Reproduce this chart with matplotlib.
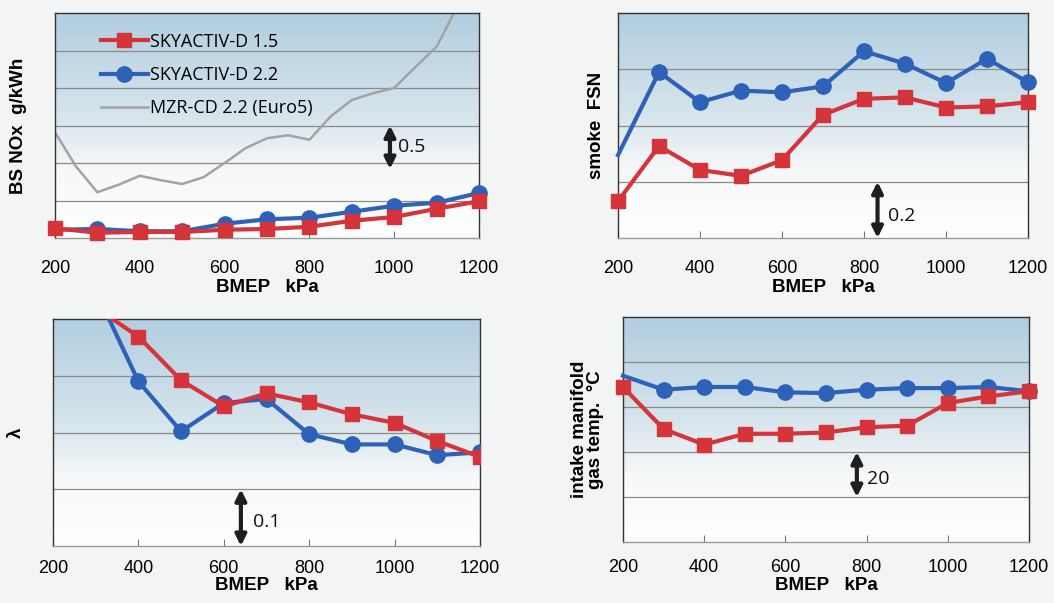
import numpy as np
import matplotlib
matplotlib.use("Agg")
import matplotlib.pyplot as plt
from matplotlib.colors import LinearSegmentedColormap

plt.rcParams['font.family'] = ['Liberation Sans', 'DejaVu Sans']

# ---------------- data ----------------
bmep = [200, 300, 400, 500, 600, 700, 800, 900, 1000, 1100, 1200]

nox_d15 = [0.13, 0.07, 0.08, 0.08, 0.11, 0.12, 0.15, 0.23, 0.28, 0.39, 0.49]
nox_d22 = [0.11, 0.12, 0.09, 0.09, 0.19, 0.25, 0.27, 0.35, 0.43, 0.47, 0.60]
mzr_bmep = [200, 250, 300, 350, 400, 450, 500, 550, 600, 650, 700, 750, 800,
            850, 900, 950, 1000, 1050, 1100, 1150, 1200]
mzr_nox = [1.41, 0.95, 0.61, 0.71, 0.83, 0.77, 0.72, 0.81, 1.00, 1.20, 1.33, 1.37, 1.31,
           1.62, 1.84, 1.93, 2.00, 2.28, 2.55, 3.10, 3.60]

smoke_d15 = [0.131, 0.327, 0.242, 0.221, 0.277, 0.438, 0.495, 0.500, 0.464, 0.468, 0.483]
smoke_d22 = [0.295, 0.590, 0.483, 0.524, 0.518, 0.539, 0.664, 0.620, 0.551, 0.637, 0.554]

lambda_d15 = [0.50, 0.42, 0.369, 0.292, 0.246, 0.269, 0.253, 0.232, 0.217, 0.185, 0.157]
lambda_d22 = [0.60, 0.45, 0.290, 0.202, 0.252, 0.259, 0.197, 0.179, 0.179, 0.160, 0.165]

temp_d15 = [68.9, 50.2, 43.3, 48.1, 48.1, 48.7, 51.0, 51.7, 61.8, 64.7, 67.0]
temp_d22 = [73.9, 67.7, 68.9, 68.9, 66.5, 66.2, 67.7, 68.4, 68.4, 68.9, 67.0]

labels = ['SKYACTIV-D 1.5', 'SKYACTIV-D 2.2', 'MZR-CD 2.2 (Euro5)']
xticks = [200, 400, 600, 800, 1000, 1200]

RED = '#d4343a'
BLUE = '#2d62b8'
GRAY = '#a3a3a3'

fig = plt.figure(figsize=(10.54, 6.03), dpi=100, facecolor='#f3f4f4')

W, H = 1054, 603
def add_ax(x0, x1, y0, y1):
    return fig.add_axes([x0 / W, 1 - y1 / H, (x1 - x0) / W, (y1 - y0) / H])

cmap = LinearSegmentedColormap.from_list(
    'bg', [(0.0, '#ffffff'), (0.30, '#f6f8f9'), (0.55, '#d6e4ec'), (1.0, '#b2cee0')])

def style(ax, ylim, step, ylabel, ylabel_x, tpad, lpad):
    ax.set_xlim(200, 1200)
    ax.set_ylim(*ylim)
    grad = np.linspace(0, 1, 256).reshape(-1, 1)
    ax.imshow(grad, cmap=cmap, aspect='auto', extent=[0, 1, 0, 1],
              transform=ax.transAxes, origin='lower', zorder=0)
    for yv in np.arange(ylim[0] + step, ylim[1] - step / 2, step):
        ax.axhline(yv, color='#8a8a8a', lw=0.9, zorder=1)
    ax.set_yticks([])
    ax.set_xticks(xticks)
    ax.set_xticklabels([str(t) for t in xticks], fontsize=13)
    ax.tick_params(axis='x', direction='in', length=5, width=0.8, color='#777777', pad=tpad)
    for s in ax.spines.values():
        s.set_color('#333333')
        s.set_linewidth(1.0)
    ax.spines['bottom'].set_color('#999999')
    ax.set_xlabel('BMEP   kPa', fontsize=13.5, fontweight='bold', labelpad=lpad)
    ax.set_ylabel(ylabel, fontsize=13.5, fontweight='bold')
    ax.yaxis.set_label_coords(ylabel_x, 0.5)

def arrow(ax, x, y0, y1, text, tx, ty):
    ax.annotate('', xy=(x, y0), xytext=(x, y1),
                arrowprops=dict(arrowstyle='<|-|>', color='#1e1e1e', lw=3, mutation_scale=16,
                                shrinkA=0, shrinkB=0), zorder=5)
    ax.text(tx, ty, text, fontsize=14, va='center', ha='left', color='#111111',
            family=['Open Sans', 'DejaVu Sans'])

# ---- top left: NOx ----
ax1 = add_ax(55, 479, 13, 238)
style(ax1, (0, 3.0), 0.5, 'BS NOx  g/kWh', -0.066, 16, 1)
l3, = ax1.plot(mzr_bmep, mzr_nox, color=GRAY, lw=1.8, zorder=2, label=labels[2])
ax1.plot(bmep, nox_d22, color=BLUE, lw=3, marker='o', ms=11,
         markevery=list(range(1, len(bmep))), zorder=3, clip_on=False)
ax1.plot(bmep, nox_d15, color=RED, lw=3, marker='s', ms=10, zorder=3, clip_on=False)
h1, = ax1.plot([], [], color=RED, lw=3, marker='s', ms=10)
h2, = ax1.plot([], [], color=BLUE, lw=3, marker='o', ms=11)
leg = ax1.legend([h1, h2, l3], labels, loc='upper left', bbox_to_anchor=(0.07, 0.985),
                 frameon=False, handlelength=2.6, handletextpad=0.1,
                 labelspacing=0.85, prop={'family': ['Open Sans', 'DejaVu Sans'], 'size': 13})
arrow(ax1, 990, 1.5, 0.92, '0.5', 1010, 1.22)

# ---- top right: smoke ----
ax2 = add_ax(618, 1028, 13, 238)
style(ax2, (0, 0.8), 0.2, 'smoke  FSN', -0.032, 16, 1)
ax2.plot(bmep, smoke_d22, color=BLUE, lw=3, marker='o', ms=11,
         markevery=list(range(1, len(bmep))), zorder=3, clip_on=False)
ax2.plot(bmep, smoke_d15, color=RED, lw=3, marker='s', ms=10, zorder=3, clip_on=False)
arrow(ax2, 833, 0.2, 0.0, '0.2', 858, 0.078)

# ---- bottom left: lambda ----
ax3 = add_ax(53, 480, 319, 546)
style(ax3, (0, 0.4), 0.1, 'λ', -0.066, 10, 0)
ax3.plot(bmep, lambda_d22, color=BLUE, lw=3, marker='o', ms=11,
         markevery=list(range(2, len(bmep))), zorder=3, clip_on=True)
ax3.plot(bmep, lambda_d15, color=RED, lw=3, marker='s', ms=10,
         markevery=list(range(2, len(bmep))), zorder=3, clip_on=True)
arrow(ax3, 640, 0.1, 0.0, '0.1', 668, 0.042)

# ---- bottom right: intake temp ----
ax4 = add_ax(623, 1029, 317, 542)
style(ax4, (0, 100), 20, 'intake manifold\ngas temp.  °C', -0.047, 12, 1)
ax4.yaxis.label.set_linespacing(0.95)
ax4.plot(bmep, temp_d22, color=BLUE, lw=3, marker='o', ms=11,
         markevery=list(range(1, len(bmep))), zorder=3, clip_on=False)
ax4.plot(bmep, temp_d15, color=RED, lw=3, marker='s', ms=10, zorder=3, clip_on=False)
arrow(ax4, 776, 40, 20, '20', 800, 28)

fig.savefig('out.png', dpi=100, facecolor=fig.get_facecolor())
